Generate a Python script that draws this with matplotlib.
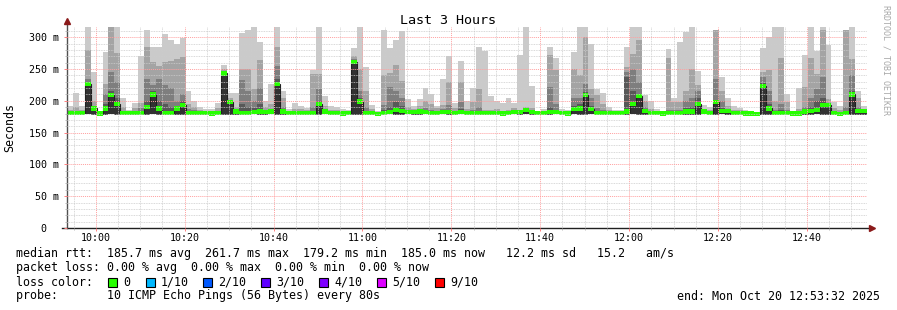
import pandas as pd
import matplotlib
matplotlib.use('Agg')
import matplotlib.pyplot as plt
import matplotlib.dates as mdates
from matplotlib.ticker import MultipleLocator, FuncFormatter
from matplotlib.patches import Rectangle

plt.rcParams['font.family'] = ['DejaVu Sans Mono']

# smokeping data, one value per 80 s step, in ms
start = pd.Timestamp('2025-10-20 09:53:32')

ping_max = [192, 212, 192, 320, 245, 184, 276, 320, 320, 204,
            185, 196, 270, 312, 284, 284, 305, 295, 290, 298,
            215, 200, 190, 187, 187, 196, 257, 213, 213, 306,
            311, 320, 292, 200, 226, 320, 216, 187, 196, 192,
            189, 248, 320, 207, 192, 190, 187, 186, 283, 320,
            253, 193, 184, 311, 283, 296, 309, 203, 192, 203,
            220, 210, 192, 234, 270, 196, 262, 200, 220, 284,
            278, 207, 200, 197, 205, 197, 272, 320, 224, 184,
            187, 284, 267, 187, 186, 276, 320, 320, 289, 218,
            213, 191, 186, 186, 284, 320, 320, 209, 200, 187,
            183, 281, 205, 292, 308, 320, 247, 193, 191, 311,
            237, 205, 192, 188, 186, 184, 182, 283, 300, 320,
            320, 210, 184, 220, 272, 320, 278, 320, 287, 198,
            192, 311, 320, 216, 192]

ping_9 = [186, 190, 186, 280, 200, 182, 227, 320, 275, 190,
          183, 188, 196, 284, 261, 255, 261, 262, 265, 269,
          195, 190, 186, 184, 184, 188, 250, 205, 190, 250,
          250, 218, 264, 190, 195, 284, 205, 184, 187, 187,
          185, 242, 242, 192, 186, 186, 184, 184, 271, 250,
          216, 187, 182, 240, 243, 256, 231, 190, 187, 192,
          200, 195, 188, 193, 229, 188, 229, 187, 198, 218,
          186, 186, 187, 184, 186, 188, 183, 190, 188, 182,
          184, 272, 248, 184, 183, 250, 240, 301, 218, 209,
          195, 186, 183, 183, 253, 273, 295, 200, 187, 184,
          182, 268, 198, 198, 216, 250, 225, 187, 186, 311,
          215, 192, 186, 185, 184, 182, 181, 245, 248, 200,
          267, 198, 182, 187, 222, 267, 242, 311, 203, 188,
          185, 311, 265, 205, 187]

ping_8 = [183, 184, 183, 235, 192, 181, 210, 245, 230, 184,
          182, 184, 188, 235, 225, 235, 225, 220, 200, 210,
          187, 185, 184, 183, 183, 184, 247, 200, 185, 232,
          215, 200, 220, 185, 187, 255, 190, 182, 184, 184,
          183, 190, 218, 186, 184, 183, 182, 182, 265, 216,
          190, 184, 181, 193, 222, 216, 205, 185, 184, 186,
          188, 186, 184, 187, 193, 184, 198, 184, 186, 190,
          183, 183, 184, 182, 183, 184, 182, 187, 184, 182,
          183, 221, 195, 182, 182, 205, 205, 226, 205, 188,
          186, 184, 182, 182, 245, 250, 230, 190, 184, 182,
          181, 186, 185, 186, 200, 205, 215, 185, 184, 234,
          200, 186, 184, 183, 182, 181, 180, 238, 215, 186,
          195, 186, 181, 184, 190, 205, 218, 237, 196, 184,
          183, 190, 240, 190, 186]

ping_7 = [182, 182, 182, 230, 190, 181, 195, 215, 205, 182,
          181, 182, 184, 200, 215, 200, 195, 190, 192, 200,
          183, 183, 182, 182, 182, 182, 245, 199, 183, 195,
          190, 188, 195, 183, 184, 235, 185, 181, 182, 182,
          182, 184, 200, 184, 182, 182, 181, 181, 263, 205,
          184, 182, 180, 185, 190, 198, 192, 183, 183, 184,
          184, 184, 182, 184, 186, 182, 187, 182, 183, 184,
          182, 182, 182, 181, 182, 182, 182, 186, 183, 181,
          182, 190, 185, 182, 181, 192, 195, 214, 192, 184,
          183, 182, 181, 181, 237, 215, 210, 185, 182, 181,
          181, 183, 183, 183, 188, 190, 205, 184, 182, 200,
          188, 184, 182, 182, 181, 180, 180, 228, 195, 183,
          185, 183, 180, 182, 185, 190, 200, 205, 194, 182,
          181, 183, 215, 186, 185]

median = [181, 181, 181, 226, 188, 180, 188, 209, 195, 181,
          181, 181, 181, 190, 210, 188, 181, 181, 188, 193,
          181, 181, 181, 181, 180, 181, 243, 198, 183, 181,
          181, 182, 183, 182, 183, 226, 183, 181, 181, 181,
          181, 181, 195, 183, 181, 181, 180, 181, 261, 199,
          181, 181, 179, 181, 182, 185, 184, 182, 182, 183,
          182, 181, 181, 182, 182, 181, 182, 181, 181, 181,
          181, 181, 181, 180, 181, 182, 182, 185, 182, 181,
          181, 182, 182, 181, 180, 187, 188, 209, 187, 181,
          181, 181, 181, 181, 183, 195, 207, 184, 181, 181,
          180, 181, 181, 181, 183, 183, 195, 183, 181, 198,
          184, 184, 181, 181, 180, 180, 179, 223, 188, 181,
          181, 181, 180, 180, 183, 184, 185, 193, 193, 181,
          179, 181, 210, 184, 184]

ping_min = [178, 179, 178, 179, 177, 178, 178, 179, 177, 178,
            179, 178, 178, 177, 179, 178, 178, 179, 178, 178,
            179, 178, 179, 178, 178, 179, 177, 178, 178, 179,
            178, 179, 178, 178, 179, 178, 178, 178, 179, 178,
            178, 178, 177, 179, 178, 178, 178, 179, 178, 178,
            178, 179, 177, 178, 179, 178, 177, 179, 178, 178,
            179, 178, 178, 179, 178, 178, 179, 178, 178, 178,
            179, 178, 179, 178, 178, 179, 178, 180, 178, 178,
            179, 178, 179, 178, 178, 179, 178, 178, 179, 178,
            178, 179, 178, 178, 177, 179, 178, 178, 179, 178,
            178, 179, 178, 179, 178, 178, 177, 179, 178, 178,
            179, 178, 178, 179, 178, 178, 178, 178, 177, 179,
            178, 178, 178, 179, 178, 178, 179, 177, 178, 178,
            179, 178, 177, 178, 178]

legend_lines = [
    'median rtt:  185.7 ms avg  261.7 ms max  179.2 ms min  185.0 ms now   12.2 ms sd   15.2   am/s',
    'packet loss: 0.00 % avg  0.00 % max  0.00 % min  0.00 % now',
    'loss color:',
    'probe:       10 ICMP Echo Pings (56 Bytes) every 80s',
]
loss_labels = ['0', '1/10', '2/10', '3/10', '4/10', '5/10', '9/10']
loss_colors = ['#26ff00', '#00b8ff', '#0059ff', '#5e00ff', '#7e00ff', '#dd00ff', '#ff0000']
smoke_colors = ['#cacaca', '#a4a4a4', '#7e7e7e', '#585858', '#323232']

W, H = 897, 310
fig = plt.figure(figsize=(W / 100, H / 100), dpi=100)
ax = fig.add_axes([67 / W, (H - 228) / H, 800 / W, 201 / H])

edges = mdates.date2num(pd.date_range(start, periods=len(median) + 1, freq='80s'))

# smoke bands, outer (light) first
for top, c in zip([ping_max, ping_9, ping_8, ping_7, median], smoke_colors):
    ax.stairs(top, edges, baseline=ping_min, fill=True, color=c, lw=0)
ax.stairs(median, edges, baseline=None, color='#202020', lw=0.8)
med_lo = [m - 3.3 for m in median]
med_hi = [m + 3.3 for m in median]
ax.stairs(med_hi, edges, baseline=med_lo, fill=True, color=loss_colors[0], lw=0)

ax.set_xlim(edges[0], edges[-1])
ax.set_ylim(0, 316)

ax.xaxis.set_major_locator(mdates.MinuteLocator(byminute=[0, 20, 40]))
ax.xaxis.set_minor_locator(mdates.MinuteLocator(byminute=range(0, 60, 5)))
ax.xaxis.set_major_formatter(mdates.DateFormatter('%H:%M'))
ax.yaxis.set_major_locator(MultipleLocator(50))
ax.yaxis.set_minor_locator(MultipleLocator(10))
ax.yaxis.set_major_formatter(FuncFormatter(lambda v, p: '0  ' if v == 0 else f'{v:.0f} m'))

ax.set_axisbelow(False)
ax.grid(which='minor', color='#cccccc', ls=(0, (1, 1)), lw=0.6)
ax.grid(which='major', color='#ffa0a0', ls=(0, (1, 1)), lw=0.7)

ax.tick_params(axis='both', which='major', labelsize=7.2, length=2.5, color='#ff8080', width=0.7)
ax.tick_params(axis='both', which='minor', length=1.5, color='#b0b0b0', width=0.6)
ax.tick_params(axis='x', which='major', pad=0.8)
ax.tick_params(axis='y', which='major', pad=3)

for s in ax.spines.values():
    s.set_visible(False)
ax.plot([0, 0], [0, 1.025], transform=ax.transAxes, color='#505050', lw=1, clip_on=False)
ax.plot([-5 / 800, 1.004], [0, 0], transform=ax.transAxes, color='#202020', lw=1, clip_on=False)
ax.plot(0, 1.03, marker='^', ms=4, color='#8b1a1a', transform=ax.transAxes, clip_on=False)
ax.plot(1.006, 0, marker='>', ms=4, color='#8b1a1a', transform=ax.transAxes, clip_on=False)

fig.text(448 / W, 1 - 20 / H, 'Last 3 Hours', ha='center', va='center', fontsize=9.6)
fig.text(10 / W, 1 - 127 / H, 'Seconds', ha='center', va='center', rotation=90, fontsize=8.4)
fig.text(886 / W, 1 - 60 / H, 'RRDTOOL / TOBI OETIKER', ha='center', va='center',
         rotation=270, fontsize=6, color='#a8a8a8')

fs = 8.4
for i, line in enumerate(legend_lines):
    fig.text(16 / W, 1 - (254 + 14 * i) / H, line, ha='left', va='center', fontsize=fs)

sq_x = [108, 146, 203, 261, 319, 377, 435]
for x, lab, c in zip(sq_x, loss_labels, loss_colors):
    fig.patches.append(Rectangle((x / W, 1 - 287 / H), 9 / W, 9 / H, transform=fig.transFigure,
                                 facecolor=c, edgecolor='black', lw=0.8))
    fig.text((x + 15) / W, 1 - 282 / H, lab, ha='left', va='center', fontsize=fs)

fig.text(880 / W, 1 - 296 / H, 'end: Mon Oct 20 12:53:32 2025', ha='right', va='center', fontsize=fs)

fig.savefig('out.png', dpi=100, facecolor='white')
